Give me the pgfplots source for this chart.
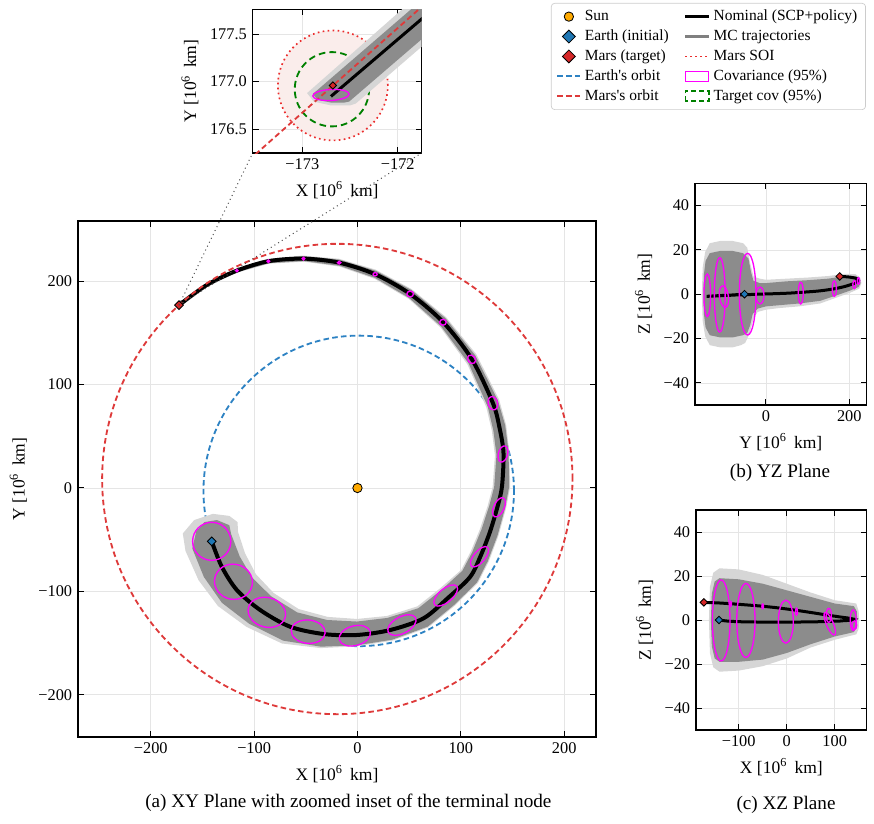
\documentclass[border=0pt]{standalone}
\usepackage{fontspec}
\setmainfont{Liberation Serif}
\newfontfamily\nomap{Liberation Serif}
\usepackage{pgfplots}
\pgfplotsset{compat=1.18}

\definecolor{sunc}{RGB}{255,170,0}
\definecolor{earthc}{RGB}{31,119,180}
\definecolor{eorb}{RGB}{45,130,195}
\definecolor{marsc}{RGB}{214,39,40}
\definecolor{morb}{RGB}{222,58,58}
\definecolor{soic}{RGB}{235,45,45}
\definecolor{soifill}{RGB}{250,237,235}
\definecolor{tgtc}{RGB}{0,128,0}
\definecolor{bandc}{RGB}{140,140,140}
\definecolor{fringec}{RGB}{214,214,214}
\definecolor{covc}{RGB}{255,0,255}

\newcommand{\covell}[5]{\draw[covc, line width=0.8pt, rotate around={#5:(axis cs:#1,#2)}] (axis cs:#1,#2) ellipse [x radius=#3pt, y radius=#4pt];}

\pgfplotsset{
  myax/.style={
    scale only axis,
    axis line style={line width=0.8pt},
    tick style={black, line width=0.6pt},
    major tick length=3.5pt,
    grid=major,
    grid style={black!10, line width=0.4pt},
    tick label style={font=\fontsize{9.8}{11}\selectfont},
    label style={font=\fontsize{10.5}{12}\selectfont},
  }
}

\begin{document}
\begin{tikzpicture}
\path[use as bounding box] (-46.8pt,-51.6pt) rectangle (477.6pt,442.2pt);

% ================= MAIN XY =================
\begin{axis}[myax, name=main, at={(0pt,0pt)}, anchor=south west,
  width=310.8pt, height=309.6pt,
  xmin=-270.4, xmax=230.8, ymin=-240.9, ymax=258.3,
  xtick={-200,-100,0,100,200}, xticklabels={−200,−100,0,100,200},
  ytick={-200,-100,0,100,200}, yticklabels={−200,−100,0,100,200},
  xlabel={X [10\textsuperscript{6}\, km]}, ylabel={Y [10\textsuperscript{6}\, km]},
  legend columns=2, legend cell align=left,
  legend image code/.code={\draw[mark repeat=2,mark phase=2,#1] plot coordinates {(0pt,0pt) (7pt,0pt) (14pt,0pt)};},
  legend style={at={(1.521,1.4225)}, anchor=north east, draw=black!20, rounded corners=2pt,
    font=\fontsize{9.3}{10.5}\selectfont, /tikz/every even column/.append style={column sep=7pt}},
]
% Earth orbit (full circle, partly hidden by MC band)
\draw[eorb, line width=1.1pt, dash pattern=on 3.3pt off 2pt] (axis cs:1.2,-2.8) circle [radius=93.15pt];

% MC fringe
\addplot[draw=none, fill=fringec, forget plot] coordinates {
(-115.6,-42.3) (-116,-33) (-124,-27) (-140,-25) (-158,-31) (-169,-44)
(-166.4,-60.9) (-153.8,-89.1) (-135.0,-114.2) (-107.3,-134.4) (-73.1,-150.4) (-35.8,-154.9)
(-0.6,-153.2) (34.1,-147.6) (68.4,-135.0) (94.4,-113.7) (116.5,-91.9) (127.1,-71.1)
(136.5,-45.9) (143.9,-19.2) (147.8,1.4) (146.9,35.0) (143.9,60.8) (137.0,85.7)
(115.0,129.4) (85.6,165.4) (52.3,192.5) (17.5,211.3) (-18.0,221.8) (-53.0,224.9)
(-87.1,221.7) (-117.7,212.0) (-146.6,197.4) (-172.9,176.9)
(-145.0,195.4) (-115.7,208.6) (-85.3,217.1) (-51.6,218.9) (-17.4,214.2) (16.7,202.3)
(49.7,182.9) (80.4,155.2) (106.4,119.6) (124.7,78.0) (130.1,54.9) (133.0,31.6)
(130.8,1.2) (126.1,-16.8) (118.5,-39.8) (109.6,-61.4) (100.4,-79.2) (80.3,-96.8)
(58.0,-114.5) (28.5,-123.8) (-0.5,-126.7) (-28.8,-124.7) (-56.9,-117.1) (-81.1,-101.6)
(-98.4,-83.2) (-108.8,-63.1) (-115.6,-42.3)};
% MC dense
\addplot[draw=none, fill=bandc, forget plot] coordinates {
(-122.2,-44.7) (-124,-36) (-136,-31) (-148,-33) (-156,-42)
(-159.8,-58.5) (-148.6,-86.1) (-131.2,-111.0) (-104.8,-131.3) (-71.8,-147.7) (-35.4,-153.5)
(-0.6,-152.2) (33.8,-146.7) (68.0,-134.1) (93.8,-112.9) (115.7,-91.3) (126.2,-70.6)
(135.6,-45.6) (142.9,-19.1) (146.8,1.4) (146.2,34.8) (143.0,60.3) (135.8,84.9)
(114.0,128.2) (85.1,164.3) (52.0,191.6) (17.4,210.3) (-17.9,221.0) (-52.9,224.3)
(-86.9,221.3) (-117.5,211.7) (-146.4,197.2) (-172.7,176.86)
(-145.2,195.6) (-115.9,208.9) (-85.5,217.5) (-51.7,219.5) (-17.5,215.0) (16.8,203.3)
(50.0,183.8) (80.9,156.3) (107.4,120.8) (126.0,78.8) (131.5,55.5) (134.5,32.0)
(132.3,1.2) (127.6,-17.0) (119.9,-40.3) (111.0,-62.1) (101.5,-80.1) (81.6,-98.3)
(58.9,-116.3) (29.0,-125.7) (-0.5,-129.2) (-29.4,-127.7) (-58.4,-120.3) (-83.6,-104.7)
(-102.2,-86.4) (-114.0,-66.1) (-122.2,-44.7)};
% nominal
\addplot[black, line width=2.4pt, smooth, forget plot] coordinates {
(-141,-51.6) (-131.3,-76.1) (-116.7,-98.7) (-94.2,-118) (-65.2,-134.2) (-32.6,-141.3)
(-0.6,-142.2) (31.7,-137.4) (63.9,-126.1) (88,-106) (109,-86) (118.8,-66.5)
(128,-43) (135.5,-18.1) (139.8,1.3) (141.3,33.6) (137.5,58) (131.1,82)
(110.7,124.5) (83,160.3) (51,187.7) (17.1,206.8) (-17.7,218) (-52.3,221.9)
(-86.2,219.4) (-116.7,210.3) (-145.8,196.4) (-172.7,176.85)};
% Mars orbit
\draw[morb, line width=1.1pt, dash pattern=on 3.3pt off 2pt] (axis cs:-19.5,8.7) circle [radius=141.1pt];
% covariance ellipses
\covell{-141}{-51.6}{11.47}{11.41}{0}
\covell{-120}{-90.7}{11.41}{10.54}{-10}
\covell{-87.7}{-120.3}{11.41}{8.87}{-15}
\covell{-47.7}{-139}{10.23}{7.0}{-5}
\covell{-2.6}{-142.9}{9.61}{5.89}{15}
\covell{43}{-132.6}{9.3}{4.96}{28}
\covell{85.4}{-104}{8.68}{4.03}{40}
\covell{118.1}{-66.5}{7.44}{3.41}{50}
\covell{136.9}{-18.7}{6.2}{3.1}{65}
\covell{140.8}{32.9}{4.96}{2.79}{75}
\covell{131}{82}{4.03}{2.79}{105}
\covell{110.4}{124.5}{2.79}{2.17}{130}
\covell{82.7}{160.3}{1.98}{1.74}{0}
\covell{51}{187.7}{1.98}{1.74}{0}
\covell{17.1}{206.8}{1.24}{0.99}{0}
\covell{-17.7}{218}{1.0}{0.8}{0}
\covell{-52.3}{221.9}{0.8}{0.8}{0}
\covell{-86.2}{219.4}{0.75}{0.75}{0}
\covell{-116.7}{210.3}{0.7}{0.7}{0}
% markers
\addplot[only marks, mark=*, mark size=2.8pt, mark options={fill=sunc, draw=black, line width=0.5pt}, forget plot] coordinates {(0,0)};
\addplot[only marks, mark=square*, mark size=1.85pt, mark options={fill=earthc, draw=black, line width=0.5pt, rotate=45}, forget plot] coordinates {(-141,-51.6)};
\addplot[only marks, mark=square*, mark size=1.85pt, mark options={fill=marsc, draw=black, line width=0.5pt, rotate=45}, forget plot] coordinates {(-172.68,176.96)};
\coordinate (marsmain) at (axis cs:-172.68,176.96);

% legend
\addlegendimage{only marks, mark=*, mark size=2.8pt, mark options={fill=sunc, draw=black, line width=0.5pt}}
\addlegendentry{Sun}
\addlegendimage{legend image code/.code={\draw[black, line width=2pt] (0pt,0pt) -- (14pt,0pt);}}
\addlegendentry{Nominal (SCP+policy)}
\addlegendimage{only marks, mark=square*, mark size=2.75pt, mark options={fill=earthc, draw=black, line width=0.5pt, rotate=45}}
\addlegendentry{Earth (initial)}
\addlegendimage{legend image code/.code={\draw[black!50, line width=1.5pt] (0pt,0pt) -- (14pt,0pt);}}
\addlegendentry{MC trajectories}
\addlegendimage{only marks, mark=square*, mark size=2.75pt, mark options={fill=marsc, draw=black, line width=0.5pt, rotate=45}}
\addlegendentry{Mars (target)}
\addlegendimage{legend image code/.code={\draw[soic, line width=1pt, dotted] (0pt,0pt) -- (14pt,0pt);}}
\addlegendentry{Mars SOI}
\addlegendimage{legend image code/.code={\draw[eorb, line width=1.1pt, dash pattern=on 3.3pt off 2pt] (0pt,0pt) -- (14pt,0pt);}}
\addlegendentry{Earth{\nomap '}s orbit}
\addlegendimage{legend image code/.code={\draw[covc, line width=0.8pt, sharp corners] (0pt,-3pt) rectangle (14pt,3pt);}}
\addlegendentry{Covariance (95\%)}
\addlegendimage{legend image code/.code={\draw[morb, line width=1.1pt, dash pattern=on 3.3pt off 2pt] (0pt,0pt) -- (14pt,0pt);}}
\addlegendentry{Mars{\nomap '}s orbit}
\addlegendimage{legend image code/.code={\draw[tgtc, line width=1pt, sharp corners, dash pattern=on 3pt off 1.8pt] (0pt,-3pt) rectangle (14pt,3pt);}}
\addlegendentry{Target cov (95\%)}
\end{axis}

% ================= INSET =================
\begin{axis}[myax, name=inset, at={(104.8pt,350.4pt)}, anchor=south west,
  width=101.4pt, height=86.2pt,
  xmin=-173.52, xmax=-171.75, ymin=176.25, ymax=177.76,
  xtick={-173,-172}, xticklabels={−173,−172},
  ytick={176.5,177,177.5}, yticklabels={176.5,177.0,177.5},
  xlabel={X [10\textsuperscript{6}\, km]}, ylabel={Y [10\textsuperscript{6}\, km]},
]
\draw[soic, dotted, line width=1pt, fill=soifill] (axis cs:-172.68,176.96) circle [radius=33pt];
\draw[tgtc, line width=1.1pt, dash pattern=on 4pt off 2.5pt] (axis cs:-172.69,176.92) circle [radius=22.3pt];
\addplot[draw=none, fill=fringec] coordinates {
(-172.95,176.88) (-172.88,176.79) (-172.7,176.75) (-172.5,176.75) (-172.44,176.77)
(-171.25,177.80) (-171.74,177.95)};
\addplot[draw=none, fill=bandc] coordinates {
(-172.89,176.87) (-172.84,176.81) (-172.7,176.78) (-172.56,176.78) (-172.51,176.79)
(-171.34,177.80) (-171.70,177.90)};
\addplot[morb, line width=1.1pt, dash pattern=on 3.3pt off 2pt] coordinates {(-173.7,176.05) (-171.6,177.92)};
\addplot[black, line width=1.8pt] coordinates {(-172.70,176.845) (-171.5,177.873)};
\covell{-172.70}{176.86}{10.9}{3.3}{3}
\addplot[only marks, mark=square*, mark size=1.55pt, mark options={fill=marsc, draw=black, line width=0.5pt, rotate=45}] coordinates {(-172.68,176.96)};
\end{axis}

% ================= YZ =================
\begin{axis}[myax, name=yz, at={(370.2pt,199.2pt)}, anchor=south west,
  width=103pt, height=133pt,
  xmin=-170.4, xmax=241.7, ymin=-50, ymax=50,
  xtick={0,200}, xticklabels={0,200},
  ytick={-40,-20,0,20,40}, yticklabels={−40,−20,0,20,40},
  xlabel={Y [10\textsuperscript{6}\, km]}, ylabel={Z [10\textsuperscript{6}\, km]},
]
\addplot[draw=none, fill=fringec] coordinates {
(-154,0) (-152,12) (-146,19) (-135,23) (-110,24) (-80,24) (-55,23) (-45,21) (-38,14) (-30,8)
(-15,7) (0,6.5) (50,7) (100,7.5) (150,8.2) (190,9.2) (215,9) (226,7.5) (229,5) (224,2.5)
(200,0.5) (170,-1.5) (130,-4.2) (80,-5.5) (30,-6.3) (0,-7) (-20,-8) (-30,-11) (-40,-18)
(-50,-22) (-60,-23) (-80,-24) (-110,-24) (-135,-23) (-146,-19) (-152,-12)};
\addplot[draw=none, fill=bandc] coordinates {
(-150,0) (-149,9) (-145,15) (-135,18.5) (-110,19.5) (-80,19.5) (-55,18.5) (-42,16) (-36,10)
(-30,6) (-15,5) (0,5) (50,5.8) (100,6.3) (150,7) (190,8.2) (215,8.3) (224,7) (227,5)
(222,3.2) (200,1.5) (170,-0.5) (130,-3) (80,-4.2) (30,-5) (0,-5.5) (-20,-6.5) (-32,-9)
(-38,-14) (-45,-17.5) (-55,-18.5) (-80,-19.5) (-110,-19.5) (-135,-18.5) (-145,-15) (-149,-9)};
\addplot[black, line width=1.8pt, smooth] coordinates {
(-51.6,0) (-76.1,-0.3) (-98.7,-0.6) (-118,-0.8) (-134.2,-0.9) (-141.3,-1.0)
(-142.2,-1.0) (-137.4,-0.9) (-126.1,-0.8) (-106,-0.6) (-86,-0.5) (-66.5,-0.3)
(-43,-0.2) (-18.1,0) (1.3,0.1) (33.6,0.3) (58,0.5) (82,0.8)
(124.5,1.4) (160.3,2.3) (187.7,3.4) (206.8,4.5) (218,5.5) (221.9,6.3)
(219.4,6.9) (210.3,7.4) (196.4,7.8) (176.85,8.0)};
\covell{-141}{-0.5}{2.0}{12.8}{0}
\covell{-111}{-0.3}{3.25}{22.3}{0}
\covell{-101}{-1.1}{2.7}{6.5}{8}
\covell{-44}{0}{5.0}{24.5}{0}
\covell{-14.4}{-0.6}{2.4}{5.05}{0}
\covell{83.5}{0.5}{1.5}{6.5}{0}
\covell{164}{2.5}{1.25}{4.6}{0}
\covell{212}{4.3}{0.9}{2.4}{0}
\covell{222}{6}{0.7}{2.0}{0}
\addplot[only marks, mark=square*, mark size=1.6pt, mark options={fill=earthc, draw=black, line width=0.5pt, rotate=45}] coordinates {(-51.6,0)};
\addplot[only marks, mark=square*, mark size=1.6pt, mark options={fill=marsc, draw=black, line width=0.5pt, rotate=45}] coordinates {(176.96,8)};
\end{axis}

% ================= XZ =================
\begin{axis}[myax, name=xz, at={(370.8pt,4.2pt)}, anchor=south west,
  width=102.4pt, height=132pt,
  xmin=-189, xmax=166.7, ymin=-50, ymax=50,
  xtick={-100,0,100}, xticklabels={−100,0,100},
  ytick={-40,-20,0,20,40}, yticklabels={−40,−20,0,20,40},
  xlabel={X [10\textsuperscript{6}\, km]}, ylabel={Z [10\textsuperscript{6}\, km]},
]
\addplot[draw=none, fill=fringec] coordinates {
(-162,0) (-160,15) (-153,21.5) (-140,23.5) (-100,23) (-50,20.5) (0,16.5) (50,12.5) (100,9)
(145,7.5) (150,4) (151,0) (150,-4) (145,-6.5) (100,-9) (50,-12.5) (0,-17.5) (-50,-21)
(-100,-23) (-140,-23.5) (-153,-21.5) (-160,-15)};
\addplot[draw=none, fill=bandc] coordinates {
(-158,0) (-156,12) (-150,17.5) (-140,19) (-100,18.5) (-50,16.5) (0,13.5) (50,10.5) (100,7.5)
(140,6.3) (146,4) (147,0) (146,-3) (140,-5.5) (100,-7.5) (50,-11) (0,-15) (-50,-18)
(-100,-19) (-140,-19) (-150,-17.5) (-156,-12)};
\addplot[black, line width=1.8pt, smooth] coordinates {
(-141,0) (-131.3,-0.3) (-116.7,-0.6) (-94.2,-0.8) (-65.2,-0.9) (-32.6,-1.0)
(-0.6,-1.0) (31.7,-0.9) (63.9,-0.8) (88,-0.6) (109,-0.5) (118.8,-0.3)
(128,-0.2) (135.5,0) (139.8,0.1) (141.3,0.3) (137.5,0.5) (131.1,0.8)
(110.7,1.4) (83,2.3) (51,3.4) (17.1,4.5) (-17.7,5.5) (-52.3,6.3)
(-86.2,6.9) (-116.7,7.4) (-145.8,7.8) (-172.7,8.0)};
\covell{-136.5}{-0.2}{5.27}{24.3}{0}
\covell{-85}{-0.2}{5.47}{22.2}{0}
\covell{-1.8}{-0.75}{4.49}{12.9}{0}
\covell{-116.7}{7.3}{0.5}{1.5}{0}
\covell{-50}{6.2}{0.5}{1.4}{0}
\covell{20.6}{3.8}{0.6}{2.1}{0}
\covell{87.6}{2.1}{1.55}{4.2}{0}
\covell{89.8}{-1.7}{7.3}{2.1}{-67}
\covell{138.6}{-0.1}{1.8}{6.2}{0}
\covell{141}{-2.4}{1.45}{2.6}{0}
\addplot[only marks, mark=square*, mark size=1.6pt, mark options={fill=earthc, draw=black, line width=0.5pt, rotate=45}] coordinates {(-141,0)};
\addplot[only marks, mark=square*, mark size=1.6pt, mark options={fill=marsc, draw=black, line width=0.5pt, rotate=45}] coordinates {(-172.68,8)};
\end{axis}

% connector lines
\draw[black!70, dotted, line width=0.6pt] (marsmain) -- (inset.south west);
\draw[black!70, dotted, line width=0.6pt] (marsmain) -- (inset.south east);

% captions
\node[font=\fontsize{11.5}{13}\selectfont] at (162.2pt,-39.6pt) {(a) XY Plane with zoomed inset of the terminal node};
\node[font=\fontsize{11.5}{13}\selectfont] at (421.2pt,158.2pt) {(b) YZ Plane};
\node[font=\fontsize{11.5}{13}\selectfont] at (424.8pt,-40.8pt) {(c) XZ Plane};
\end{tikzpicture}
\end{document}
